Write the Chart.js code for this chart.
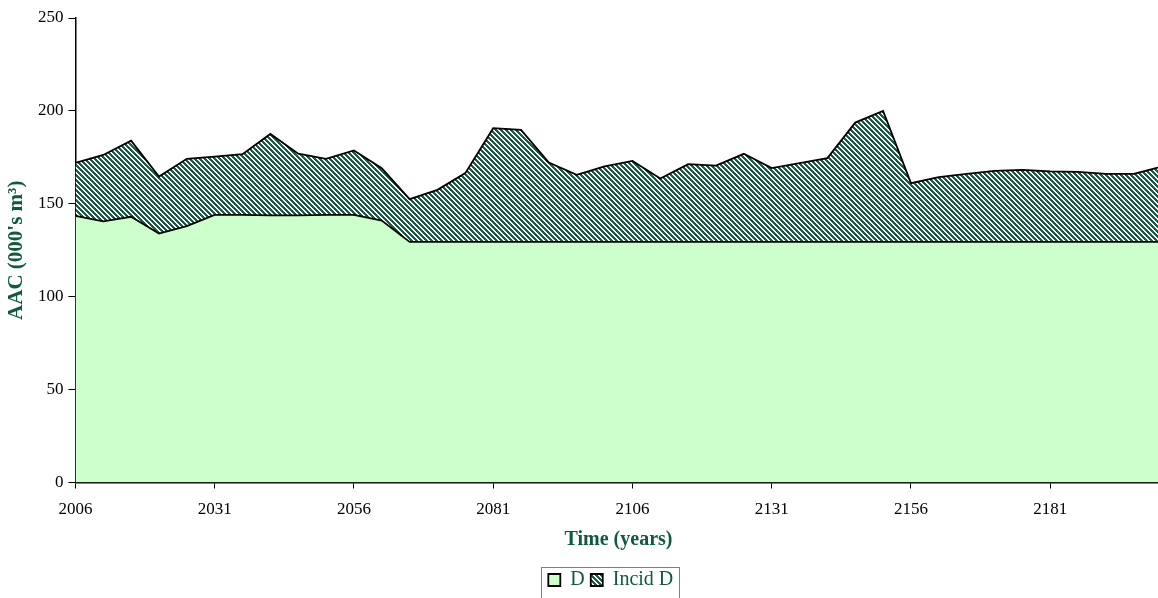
<!DOCTYPE html>
<html lang="en">
<head>
    <meta charset="UTF-8">
    <title>AAC over time</title>
    <script src="https://cdn.jsdelivr.net/npm/chart.js"></script>
    <style>
        body {
            margin: 0;
            background-color: #fff;
            overflow: hidden;
        }
        .chart-box {
            position: relative;
            width: 1164px;
            height: 600px;
        }
    </style>
</head>
<body>
    <div class="chart-box">
        <canvas id="aacChart"></canvas>
    </div>

    <script>
        // Years (one point every 5 years)
        const years = [2006, 2011, 2016, 2021, 2026, 2031, 2036, 2041, 2046, 2051,
                       2056, 2061, 2066, 2071, 2076, 2081, 2086, 2091, 2096, 2101,
                       2106, 2111, 2116, 2121, 2126, 2131, 2136, 2141, 2146, 2151,
                       2156, 2161, 2166, 2171, 2176, 2181, 2186, 2191, 2196, 2201];

        // D (000's m3)
        const dValues = [143.5, 140.5, 143, 134, 138, 144, 144, 143.8, 143.8, 144,
                         144, 141, 129.5, 129.5, 129.5, 129.5, 129.5, 129.5, 129.5, 129.5,
                         129.5, 129.5, 129.5, 129.5, 129.5, 129.5, 129.5, 129.5, 129.5, 129.5,
                         129.5, 129.5, 129.5, 129.5, 129.5, 129.5, 129.5, 129.5, 129.5, 129.5];

        // Incid D (stacked on top of D)
        const incidValues = [28.5, 35.8, 41, 30.7, 36.2, 31.4, 32.7, 43.8, 33.2, 30.2,
                             34.7, 28.2, 23, 28, 37, 61.2, 60.3, 42.7, 36.1, 40.6,
                             43.6, 34.1, 41.8, 41.1, 47.4, 39.7, 42.4, 45.1, 64.2, 70.5,
                             31.6, 34.8, 36.6, 38.2, 38.8, 37.9, 37.7, 36.6, 36.6, 40.5];

        // Tick labels on the time axis
        const tickYears = [2006, 2031, 2056, 2081, 2106, 2131, 2156, 2181];

        const titleGreen = '#0f5a3d';

        // Diagonal hatch pattern for Incid D
        function makeHatch() {
            const n = 5;
            const c = document.createElement('canvas');
            c.width = n;
            c.height = n;
            const g = c.getContext('2d');
            g.fillStyle = '#ffffff';
            g.fillRect(0, 0, n, n);
            g.fillStyle = '#1a5c45';
            for (let x = 0; x < n; x++) {
                for (let y = 0; y < n; y++) {
                    if (((x - y) % n + n) % n < 3) g.fillRect(x, y, 1, 1);
                }
            }
            return g.createPattern(c, 'repeat');
        }

        // Move the legend right and put a frame round it
        const legendFrame = {
            id: 'legendFrame',
            afterLayout(chart) {
                chart.legend.left += 30;
                chart.legend.right += 30;
            },
            afterDraw(chart) {
                const boxes = chart.legend.legendHitBoxes;
                if (!boxes || !boxes.length) return;
                const first = boxes[0];
                const last = boxes[boxes.length - 1];
                const ctx = chart.ctx;
                ctx.save();
                ctx.strokeStyle = '#808080';
                ctx.lineWidth = 1;
                const left = Math.round(first.left - 7) + 0.5;
                const right = Math.round(last.left + last.width + 6) + 0.5;
                const top = Math.round(first.top - 3) + 0.5;
                ctx.strokeRect(left, top, right - left, 60);
                ctx.restore();
            }
        };

        const points = (vals) => vals.map((v, i) => ({ x: years[i], y: v }));

        new Chart(document.getElementById('aacChart'), {
            type: 'line',
            data: {
                datasets: [{
                    label: 'D',
                    data: points(dValues),
                    backgroundColor: '#ccffcc',
                    borderColor: '#000',
                    borderWidth: 1.8,
                    fill: 'origin',
                    pointRadius: 0,
                    tension: 0
                }, {
                    label: 'Incid D',
                    data: points(incidValues),
                    backgroundColor: makeHatch(),
                    borderColor: '#000',
                    borderWidth: 1.8,
                    fill: '-1',
                    pointRadius: 0,
                    tension: 0
                }]
            },
            options: {
                responsive: true,
                maintainAspectRatio: false,
                animation: false,
                layout: {
                    padding: { top: 18, right: 2.4, left: 0, bottom: 0 }
                },
                scales: {
                    x: {
                        type: 'linear',
                        min: 2006,
                        max: 2201,
                        afterBuildTicks(scale) {
                            scale.ticks = tickYears.map(v => ({ value: v }));
                        },
                        afterFit(scale) {
                            scale.height = 81.5;
                        },
                        grid: {
                            drawOnChartArea: false,
                            drawTicks: true,
                            tickLength: 6,
                            tickWidth: 1,
                            color: '#000'
                        },
                        border: { color: '#000', width: 1.5 },
                        ticks: {
                            color: '#000',
                            padding: 11,
                            maxRotation: 0,
                            autoSkip: false,
                            font: { family: 'Liberation Serif', size: 17 },
                            callback: (v) => String(v)
                        },
                        title: {
                            display: true,
                            text: 'Time (years)',
                            color: titleGreen,
                            padding: { top: 0, bottom: 12 },
                            font: { family: 'Liberation Serif', size: 20, weight: 'bold' }
                        }
                    },
                    y: {
                        stacked: true,
                        min: 0,
                        max: 250,
                        afterFit(scale) {
                            scale.width = 75.4;
                        },
                        grid: {
                            drawOnChartArea: false,
                            drawTicks: true,
                            tickLength: 7,
                            tickWidth: 1,
                            color: '#000'
                        },
                        border: { color: '#000', width: 1.5 },
                        ticks: {
                            stepSize: 50,
                            color: '#000',
                            padding: 5,
                            font: { family: 'Liberation Serif', size: 17 }
                        },
                        title: {
                            display: true,
                            text: 'AAC (000\'s m³)',
                            color: titleGreen,
                            padding: { top: 4, bottom: 0 },
                            font: { family: 'Liberation Serif', size: 21, weight: 'bold' }
                        }
                    }
                },
                plugins: {
                    legend: {
                        display: true,
                        position: 'bottom',
                        labels: {
                            color: titleGreen,
                            boxWidth: 12,
                            boxHeight: 12,
                            padding: 6,
                            font: { family: 'Liberation Serif', size: 20 }
                        }
                    },
                    tooltip: { enabled: false }
                }
            },
            plugins: [legendFrame]
        });
    </script>
</body>
</html>
